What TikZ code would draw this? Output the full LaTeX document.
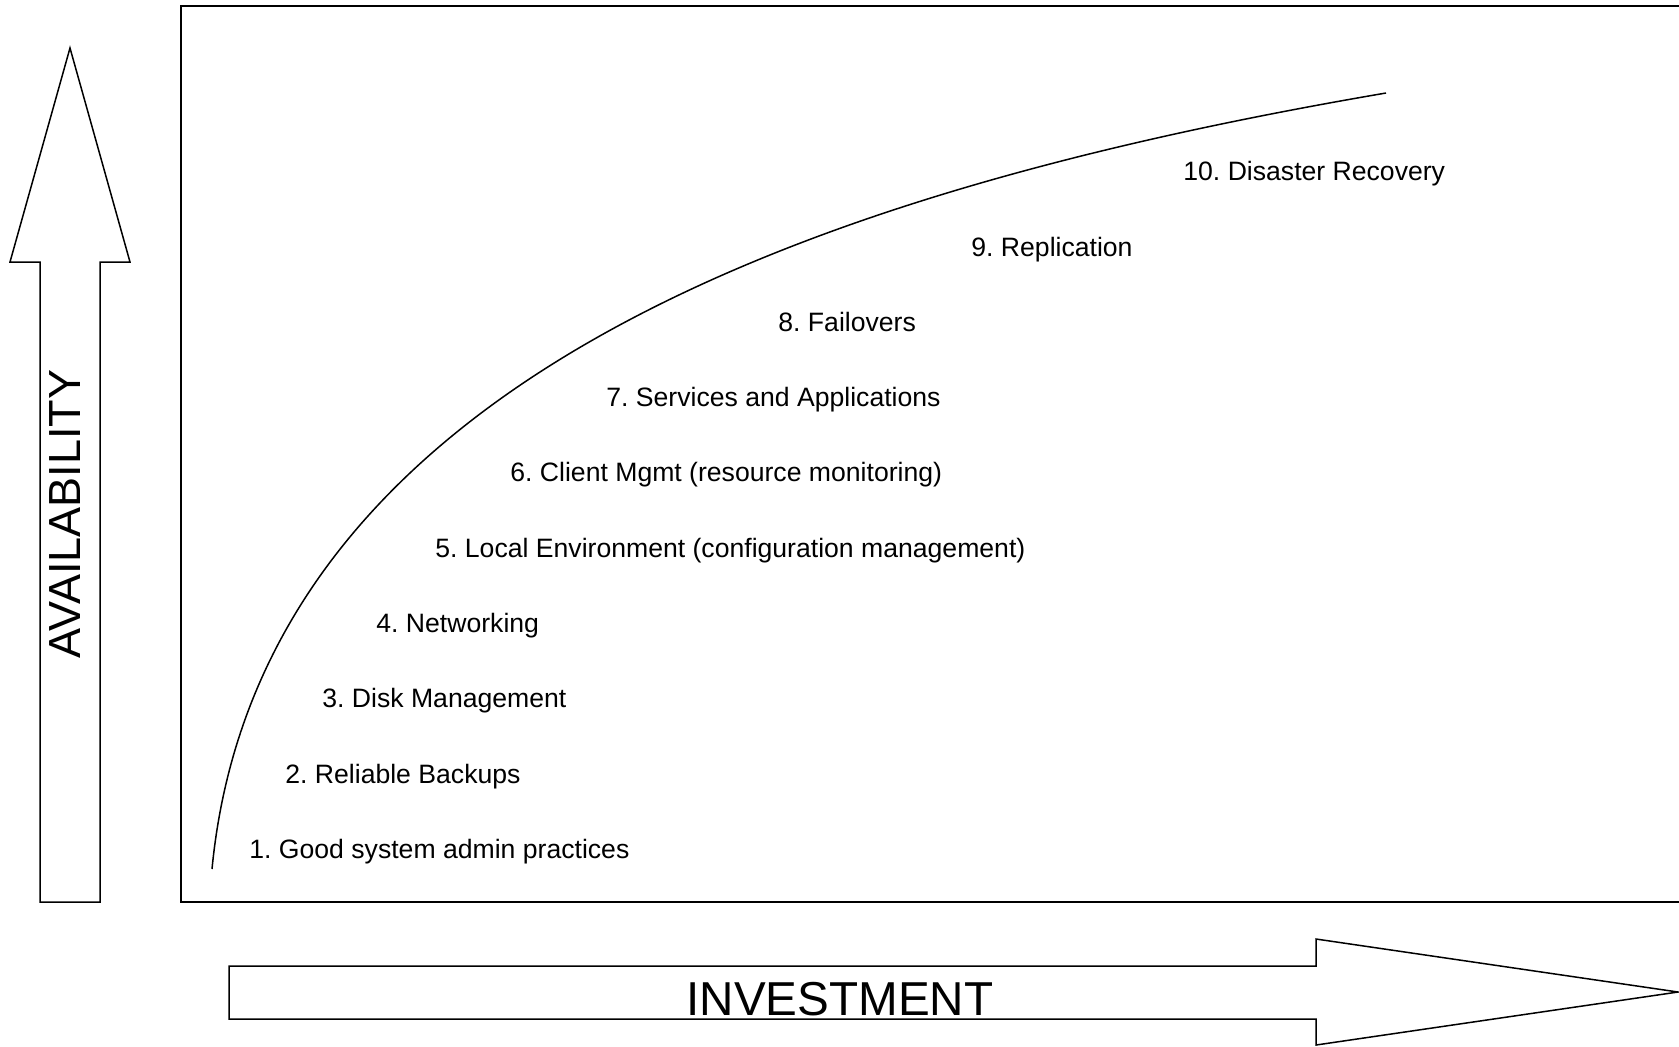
\documentclass[tikz,border=0pt]{standalone}
\usepackage{fontspec}
\setmainfont{Liberation Sans}
\usetikzlibrary{positioning}
\frenchspacing

\begin{document}
\begin{tikzpicture}[
    x=0.5pt, y=-0.5pt,
    frame/.style={draw, line width=0.8pt},
    bigarrow/.style={draw, line width=0.75pt, line join=miter},
    level/.style={anchor=base west, inner sep=0pt, font=\fontsize{13.3}{16}\selectfont},
    axislabel/.style={anchor=base, inner sep=0pt}
]
    \useasboundingbox (0,0) rectangle (1679,1046);

    % --- axis arrows ---
    \draw [bigarrow] (40,902) -- (40,262) -- (10,262) -- (70,48) -- (130,262) -- (100,262) -- (100,902) -- cycle;
    \draw [bigarrow] (229,966) -- (1316,966) -- (1316,939) -- (1678,992) -- (1316,1045) -- (1316,1019) -- (229,1019) -- cycle;
    \node [axislabel, rotate=90, font=\fontsize{22.5}{26}\selectfont] (availability) at (80,514) {AVAILABILITY};
    \node [axislabel, font=\fontsize{23.8}{28}\selectfont] (investment) at (840,1015) {INVESTMENT};

    % --- chart frame (open on the right) ---
    \draw [frame] (1679,6) -- (181,6) -- (181,902) -- (1679,902);

    % --- availability curve ---
    \coordinate (low) at (212,869);
    \coordinate (high) at (1386,93);
    \draw [line width=0.75pt] (low) .. controls (260,372) and (836,187) .. (high);

    % --- levels ---
    \node [level] (practices)   at (249,858) {1. Good system admin practices};
    \node [level] (backups)     at (285,783) {2. Reliable Backups};
    \node [level] (disks)       at (322,707) {3. Disk Management};
    \node [level] (networking)  at (376,632) {4. Networking};
    \node [level] (localenv)    at (435,557) {5. Local Environment (configuration management)};
    \node [level] (clientmgmt)  at (510,481) {6. Client Mgmt (resource monitoring)};
    \node [level] (services)    at (606,406) {7. Services and Applications};
    \node [level] (failovers)   at (778,331) {8. Failovers};
    \node [level] (replication) at (971,256) {9. Replication};
    \node [level] (recovery)    at (1183,180) {10. Disaster Recovery};

\end{tikzpicture}
\end{document}
